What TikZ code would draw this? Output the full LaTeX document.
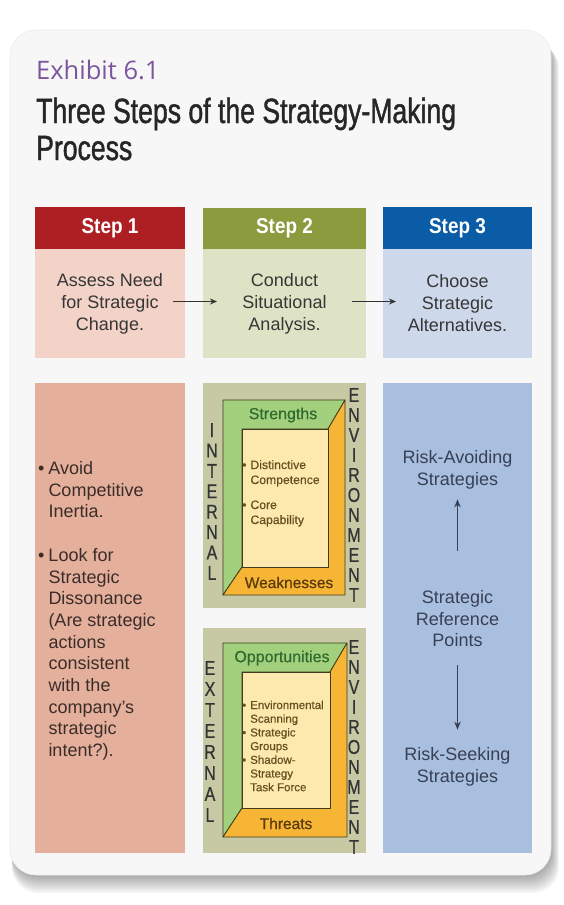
\documentclass[tikz,border=0pt]{standalone}
\usepackage{fontspec}
\setmainfont{Liberation Sans}
\newfontfamily\condfont[FakeStretch=0.76,FakeBold=1.2]{Liberation Sans}
\newfontfamily\vertfont[FakeStretch=0.8,FakeBold=0.6]{Liberation Sans}
\newfontfamily\stepfont[FakeStretch=0.88]{Liberation Sans Bold}
\newfontfamily\exfont{Open Sans}
\newfontfamily\medfont[FakeBold=0.5]{Liberation Sans}
\usetikzlibrary{arrows.meta}
\definecolor{exhibitc}{HTML}{7B569C}
\definecolor{titlec}{HTML}{262626}
\definecolor{cardc}{HTML}{F7F7F7}
\definecolor{sOneHdr}{HTML}{AE1F24}
\definecolor{sOneLt}{HTML}{F3D3C7}
\definecolor{sOneLow}{HTML}{E4B09C}
\definecolor{sTwoHdr}{HTML}{8C9B3D}
\definecolor{sTwoLt}{HTML}{DFE3C6}
\definecolor{sTwoLow}{HTML}{C6C9A3}
\definecolor{sThrHdr}{HTML}{0B5CA6}
\definecolor{sThrLt}{HTML}{CDD8EA}
\definecolor{sThrLow}{HTML}{A9BFDF}
\definecolor{bodytext}{HTML}{363636}
\definecolor{redtext}{HTML}{3B2C29}
\definecolor{bluetext}{HTML}{384055}
\definecolor{greenf}{HTML}{A3D07C}
\definecolor{orangef}{HTML}{F6B534}
\definecolor{creamf}{HTML}{FDE8AE}
\definecolor{framec}{HTML}{3E3B1E}
\definecolor{greentext}{HTML}{2F6A30}
\definecolor{browntext}{HTML}{5A3B0E}
\definecolor{innertext}{HTML}{66501F}
\definecolor{vtext}{HTML}{333333}
\tikzset{
  box/.style={inner sep=0, outer sep=0, draw=none},
  hdr/.style={box, text=white, font=\stepfont\fontsize{21.5}{24}\selectfont},
  ltbox/.style={box, text=bodytext, align=center, font=\fontsize{18}{22}\selectfont},
  bodytxt/.style={inner sep=0, align=center, font=\fontsize{18}{21.5}\selectfont},
  vlet/.style={inner sep=0, align=center, text=vtext},
  frm/.style={draw=framec, line width=0.8pt, line join=round},
  arr/.style={draw=black!80, line width=1.2pt, -{Stealth[length=7pt,width=6pt]}},
  varr/.style={draw=bluetext, line width=1.4pt, -{Stealth[length=8pt,width=6.5pt]}},
}
\begin{document}
\begin{tikzpicture}[x=1pt,y=-1pt]
\useasboundingbox (0,0) rectangle (564,905);
\fill[white] (0,0) rectangle (564,905);
% card shadow
\foreach \d in {1,...,9}{
  \fill[black, opacity=0.04, rounded corners=26] (12,34+\d) rectangle (551+\d*0.9,875+\d*2);
}
\fill[cardc, rounded corners=26] (10,30) rectangle (551,875);
\draw[black!8, line width=0.6pt, rounded corners=26] (10,30) rectangle (551,875);
% title
\node[anchor=base west, inner sep=0, text=exhibitc, font=\exfont\fontsize{25.5}{28}\selectfont] (ex) at (36,79) {Exhibit 6.1};
\node[anchor=base west, inner sep=0, text=titlec, font=\condfont\fontsize{35}{37}\selectfont] (ttl) at (36,123) {Three Steps of the Strategy-Making};
\node[anchor=base west, inner sep=0, text=titlec, font=\condfont\fontsize{35}{37}\selectfont] (ttlb) at (36,160) {Process};
% headers
\node[hdr, fill=sOneHdr, minimum width=150, minimum height=42] (h1) at (110,228) {Step 1};
\node[hdr, fill=sTwoHdr, minimum width=163, minimum height=41] (h2) at (284.5,228.5) {Step 2};
\node[hdr, fill=sThrHdr, minimum width=149, minimum height=42] (h3) at (457.5,228) {Step 3};
% light boxes
\node[ltbox, fill=sOneLt, minimum width=150, minimum height=109] (l1) at (110,303.5) {Assess Need\\for Strategic\\Change.};
\node[ltbox, fill=sTwoLt, minimum width=163, minimum height=109] (l2) at (284.5,303.5) {Conduct\\Situational\\Analysis.};
\node[ltbox, fill=sThrLt, minimum width=149, minimum height=109] (l3) at (457.5,303.5) {Choose\\Strategic\\Alternatives.};
\draw[arr] ([xshift=-12pt,yshift=2pt]l1.east) -- ([xshift=14pt,yshift=2pt]l2.west);
\draw[arr] ([xshift=-14pt,yshift=2pt]l2.east) -- ([xshift=13pt,yshift=2pt]l3.west);
% lower boxes
\node[box, fill=sOneLow, minimum width=150, minimum height=470] (b1) at (110,618) {};
\node[box, fill=sTwoLow, minimum width=163, minimum height=225] (bi) at (284.5,495.5) {};
\node[box, fill=sTwoLow, minimum width=163, minimum height=225] (be) at (284.5,740.5) {};
\node[box, fill=sThrLow, minimum width=149, minimum height=470] (b3) at (457.5,618) {};
% step 1 text
\node[anchor=base west, inner sep=0, text=redtext, font=\fontsize{18}{21.7}\selectfont] (s1txt) at (38,474.5) {\begin{tabular}[t]{@{}l@{\hspace{4pt}}l@{}}
•&Avoid\\&Competitive\\&Inertia.\\[21.7pt]
•&Look for\\&Strategic\\&Dissonance\\&(Are strategic\\&actions\\&consistent\\&with the\\&company's\\&strategic\\&intent?).
\end{tabular}};
% internal frame
\filldraw[frm, fill=greenf] (223,400) -- (345,400) -- (328,429) -- (242,429) -- (242,567) -- (223,595) -- cycle;
\filldraw[frm, fill=orangef] (345,400) -- (345,595) -- (223,595) -- (242,567) -- (328,567) -- (328,429) -- cycle;
\filldraw[frm, fill=creamf] (242,429) rectangle (328,567);
\node[inner sep=0, text=greentext, font=\medfont\fontsize{16}{18}\selectfont] (str) at (283,415) {Strengths};
\node[inner sep=0, text=browntext, font=\medfont\fontsize{15.5}{18}\selectfont] (weak) at (289,582.5) {Weaknesses};
\node[anchor=base west, inner sep=0, text=innertext, font=\medfont\fontsize{12.2}{15}\selectfont] (intxt) at (242,469) {\begin{tabular}[t]{@{}l@{\hspace{4pt}}l@{}}
•&Distinctive\\&Competence\\[10pt]•&Core\\&Capability
\end{tabular}};
\node[vlet, font=\vertfont\fontsize{20}{20.4}\selectfont] (intl) at (212,501.5) {I\\N\\T\\E\\R\\N\\A\\L};
\node[vlet, font=\vertfont\fontsize{20}{20}\selectfont] (envi) at (354,495) {E\\N\\V\\I\\R\\O\\N\\M\\E\\N\\T};
% external frame
\filldraw[frm, fill=greenf] (223,643) -- (347,643) -- (330,672) -- (242,672) -- (242,808) -- (223,837) -- cycle;
\filldraw[frm, fill=orangef] (347,643) -- (347,837) -- (223,837) -- (242,808) -- (330,808) -- (330,672) -- cycle;
\filldraw[frm, fill=creamf] (242,672) rectangle (330,808);
\node[inner sep=0, text=greentext, font=\medfont\fontsize{16}{18}\selectfont] (opp) at (282,658) {Opportunities};
\node[inner sep=0, text=browntext, font=\medfont\fontsize{15.5}{18}\selectfont] (thr) at (286,823.5) {Threats};
\node[anchor=base west, inner sep=0, text=innertext, font=\medfont\fontsize{11.5}{13.7}\selectfont] (extxt) at (242,709) {\begin{tabular}[t]{@{}l@{\hspace{4pt}}l@{}}
•&Environmental\\&Scanning\\•&Strategic\\&Groups\\•&Shadow-\\&Strategy\\&Task Force
\end{tabular}};
\node[vlet, font=\vertfont\fontsize{20}{21}\selectfont] (extl) at (210,741.5) {E\\X\\T\\E\\R\\N\\A\\L};
\node[vlet, font=\vertfont\fontsize{20}{20}\selectfont] (enve) at (354,747) {E\\N\\V\\I\\R\\O\\N\\M\\E\\N\\T};
% step 3 text
\node[bodytxt, text=bluetext] (ra) at (457.5,470) {Risk-Avoiding\\Strategies};
\node[bodytxt, text=bluetext] (mid) at (457.5,619) {Strategic\\Reference\\Points};
\node[bodytxt, text=bluetext] (rs) at (457.5,767) {Risk-Seeking\\Strategies};
\draw[varr] ([yshift=40pt]mid.north) -- ([yshift=-10pt]ra.south);
\draw[varr] ([yshift=-18pt]mid.south) -- ([yshift=18pt]rs.north);
\end{tikzpicture}
\end{document}
